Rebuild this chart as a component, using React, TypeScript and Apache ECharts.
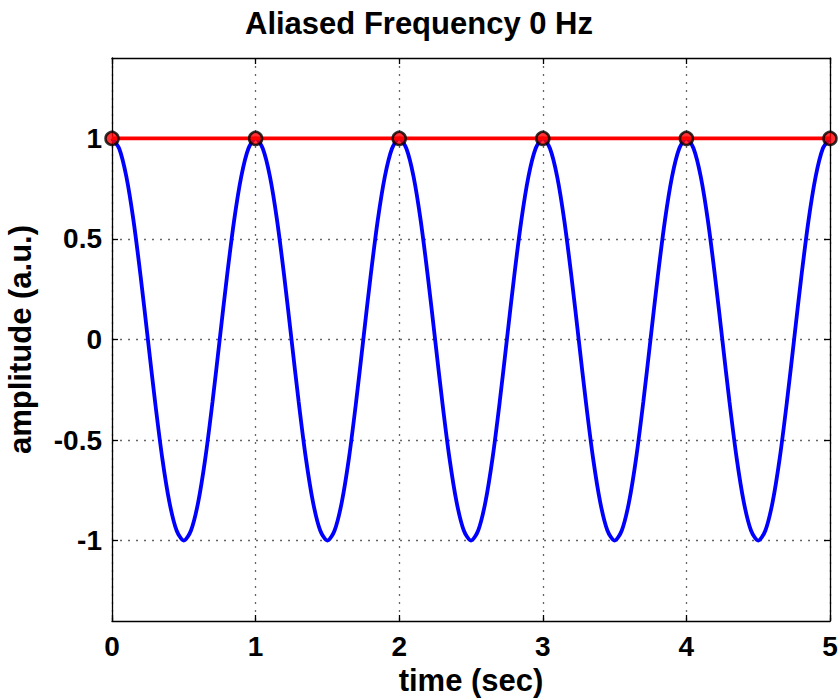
import React, { useEffect, useRef } from "react";
import * as echarts from "echarts";

const titleText = "Aliased Frequency 0 Hz";
const xName = "time (sec)";
const yName = "amplitude (a.u.)";

const tValues = [
  0, 0.05, 0.1, 0.15, 0.2, 0.25, 0.3, 0.35, 0.4, 0.45, 0.5, 0.55, 0.6, 0.65, 0.7, 0.75, 0.8, 0.85, 0.9, 0.95,
  1, 1.05, 1.1, 1.15, 1.2, 1.25, 1.3, 1.35, 1.4, 1.45, 1.5, 1.55, 1.6, 1.65, 1.7, 1.75, 1.8, 1.85, 1.9, 1.95,
  2, 2.05, 2.1, 2.15, 2.2, 2.25, 2.3, 2.35, 2.4, 2.45, 2.5, 2.55, 2.6, 2.65, 2.7, 2.75, 2.8, 2.85, 2.9, 2.95,
  3, 3.05, 3.1, 3.15, 3.2, 3.25, 3.3, 3.35, 3.4, 3.45, 3.5, 3.55, 3.6, 3.65, 3.7, 3.75, 3.8, 3.85, 3.9, 3.95,
  4, 4.05, 4.1, 4.15, 4.2, 4.25, 4.3, 4.35, 4.4, 4.45, 4.5, 4.55, 4.6, 4.65, 4.7, 4.75, 4.8, 4.85, 4.9, 4.95,
  5,
];
const blueValues = [
  1, 0.95, 0.81, 0.59, 0.31, 0, -0.31, -0.59, -0.81, -0.95, -1, -0.95, -0.81, -0.59, -0.31, 0, 0.31, 0.59, 0.81, 0.95,
  1, 0.95, 0.81, 0.59, 0.31, 0, -0.31, -0.59, -0.81, -0.95, -1, -0.95, -0.81, -0.59, -0.31, 0, 0.31, 0.59, 0.81, 0.95,
  1, 0.95, 0.81, 0.59, 0.31, 0, -0.31, -0.59, -0.81, -0.95, -1, -0.95, -0.81, -0.59, -0.31, 0, 0.31, 0.59, 0.81, 0.95,
  1, 0.95, 0.81, 0.59, 0.31, 0, -0.31, -0.59, -0.81, -0.95, -1, -0.95, -0.81, -0.59, -0.31, 0, 0.31, 0.59, 0.81, 0.95,
  1, 0.95, 0.81, 0.59, 0.31, 0, -0.31, -0.59, -0.81, -0.95, -1, -0.95, -0.81, -0.59, -0.31, 0, 0.31, 0.59, 0.81, 0.95,
  1,
];
const sampleT = [0, 1, 2, 3, 4, 5];
const sampleY = [1, 1, 1, 1, 1, 1];
const yTicks = [-1, -0.5, 0, 0.5, 1];

const FONT = "'Liberation Sans', Arial, Helvetica, sans-serif";

export default function App() {
  const ref = useRef<HTMLDivElement>(null);
  useEffect(() => {
    document.body.style.margin = "0";
    if (!ref.current) return;
    const chart = echarts.init(ref.current, null, { renderer: "svg" });
    const blueData = tValues.map((t, i) => [t, blueValues[i]]);
    const sampleData = sampleT.map((t, i) => [t, sampleY[i]]);
    const gridLine = { show: true, lineStyle: { color: "#666", type: [2, 6] as any, width: 1.3 } };
    const axisLine = { show: true, onZero: false, lineStyle: { color: "#000", width: 1.3 } };
    const tick = { show: true, inside: true, length: 6, lineStyle: { color: "#000", width: 1.3 } };
    const label = { fontFamily: FONT, fontWeight: "bold" as const, fontSize: 28, color: "#000" };
    const nameStyle = { fontFamily: FONT, fontWeight: "bold" as const, fontSize: 31, color: "#000" };
    chart.setOption({
      animation: false,
      backgroundColor: "#fff",
      title: {
        text: titleText,
        left: "center",
        top: 3,
        textStyle: { fontFamily: FONT, fontWeight: "bold", fontSize: 31, color: "#000" },
      },
      grid: { left: 112, right: 8, top: 58, bottom: 77, show: false, outerBoundsMode: "none", containLabel: false },
      xAxis: [
        {
          type: "value",
          min: 0,
          max: 5,
          interval: 1,
          position: "bottom",
          name: xName,
          nameLocation: "middle",
          nameGap: 43,
          nameTextStyle: nameStyle,
          axisLine,
          axisTick: tick,
          axisLabel: { ...label, margin: 11 },
          splitLine: gridLine,
        },
        {
          type: "value",
          min: 0,
          max: 5,
          interval: 1,
          position: "top",
          axisLine,
          axisTick: tick,
          axisLabel: { show: false },
          splitLine: { show: false },
        },
      ],
      yAxis: [
        {
          type: "value",
          min: -1.4,
          max: 1.4,
          position: "left",
          name: yName,
          nameLocation: "middle",
          nameGap: 76,
          nameTextStyle: nameStyle,
          axisLine,
          axisTick: { ...tick, customValues: yTicks },
          axisLabel: { ...label, margin: 10, customValues: yTicks },
          splitLine: gridLine,
        },
        {
          type: "value",
          min: -1.4,
          max: 1.4,
          position: "right",
          axisLine,
          axisTick: { ...tick, customValues: yTicks },
          axisLabel: { show: false, customValues: yTicks },
          splitLine: { show: false },
        },
      ],
      series: [
        {
          type: "line",
          data: blueData,
          smooth: 0.3,
          showSymbol: false,
          lineStyle: { color: "#0000ff", width: 3.8 },
          z: 2,
        },
        {
          type: "line",
          data: sampleData,
          showSymbol: false,
          lineStyle: { color: "#ff0000", width: 3.8 },
          z: 3,
        },
        {
          type: "scatter",
          data: sampleData,
          clip: false,
          symbol: "circle",
          symbolSize: 13,
          itemStyle: { color: "#ff0000", borderColor: "#000", borderWidth: 2.5 },
          z: 4,
        },
      ],
    });
    return () => chart.dispose();
  }, []);
  return <div ref={ref} style={{ width: 838, height: 698 }} />;
}
